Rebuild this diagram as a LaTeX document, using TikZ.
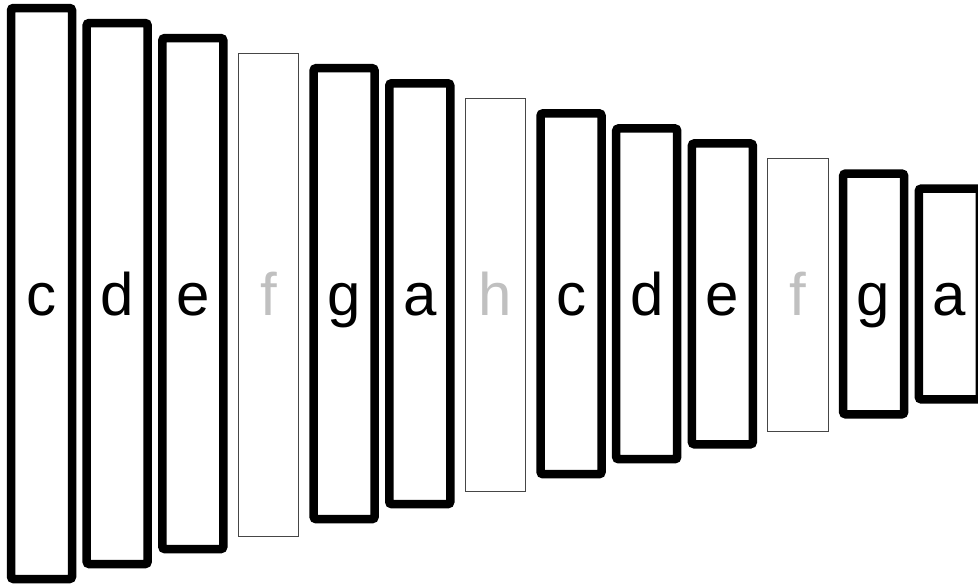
\documentclass[tikz,border=0pt]{standalone}
\usepackage{fontspec}
\setmainfont{Liberation Sans}
\definecolor{faint}{RGB}{192,192,192}
\definecolor{thinline}{RGB}{70,70,70}
\begin{document}
\begin{tikzpicture}[x=1pt,y=-1pt,
  keybar/.style={draw=black, line width=8.5pt, rounded corners=2.5pt, inner sep=0pt, minimum width=61pt},
  thinbar/.style={draw=thinline, line width=1.2pt, inner sep=0pt, minimum width=60.5pt},
  keylabel/.style={anchor=base, font=\fontsize{60}{60}\selectfont, text=black, inner sep=0pt},
  faintlabel/.style={keylabel, text=faint}]
\useasboundingbox (0,0) rectangle (978,584);
\foreach \i/\t/\k/\ex in {0/c/keybar/0,1/d/keybar/0,2/e/keybar/0,3/f/thinbar/2.5,4/g/keybar/0,5/a/keybar/0,6/h/thinbar/2.5,7/c/keybar/0,8/d/keybar/0,9/e/keybar/0,10/f/thinbar/2,11/g/keybar/0,12/a/keybar/0}{
  \pgfmathsetmacro{\cx}{41.5+75.65*\i}
  \pgfmathsetmacro{\top}{8+15.05*\i}
  \pgfmathsetmacro{\bot}{579-14.97*\i+\ex}
  \pgfmathsetmacro{\hh}{\bot-\top}
  \pgfmathsetmacro{\cy}{(\bot+\top)/2}
  \node[\k, minimum height=\hh pt] (bar\i) at (\cx,\cy) {};
  \ifnum\i=3 \def\ls{faintlabel}\else\ifnum\i=6 \def\ls{faintlabel}\else\ifnum\i=10 \def\ls{faintlabel}\else\def\ls{keylabel}\fi\fi\fi
  \node[\ls] (lab\i) at (\cx,315) {\t};
}
\end{tikzpicture}
\end{document}
